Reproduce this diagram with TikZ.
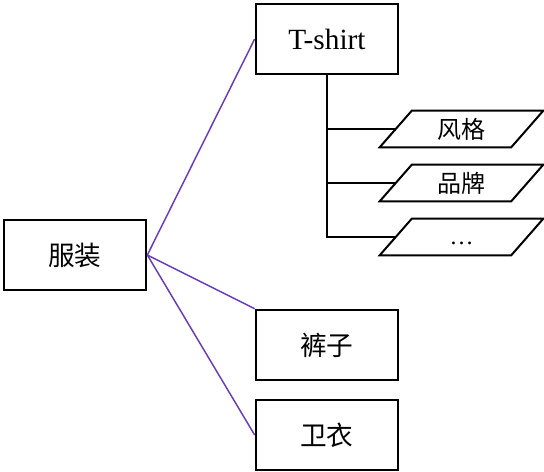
\documentclass[tikz,border=0pt]{standalone}
\usepackage{fontspec}
\setmainfont{Liberation Serif}
\newfontfamily\cjk{Noto Sans CJK SC}
\usetikzlibrary{calc}
\definecolor{linkpurple}{RGB}{106,58,186}
\begin{document}
\begin{tikzpicture}[x=0.75pt,y=-0.75pt,
  boxnode/.style={draw=black,line width=1.5pt,minimum width=107pt,minimum height=53pt,inner sep=0pt,font=\cjk\fontsize{20}{24}\selectfont},
  parnode/.style={minimum width=98.25pt,minimum height=27pt,inner sep=0pt,font=\cjk\fontsize{18}{22}\selectfont},
  link/.style={draw=linkpurple,line width=1.1pt},
  tree/.style={draw=black,line width=1.5pt}]
\useasboundingbox (0,0) rectangle (544,472);
\node[boxnode] (root) at (75,255) {服装};
\node[boxnode,font=\fontsize{22}{26}\selectfont] (tshirt) at (327,39) {T-shirt};
\node[boxnode] (kuzi) at (327,345) {裤子};
\node[boxnode] (weiyi) at (327,435) {卫衣};
\node[parnode] (p1) at (461.5,129) {风格};
\node[parnode] (p2) at (461.5,183) {品牌};
\node[parnode,font=\fontsize{18}{22}\selectfont,text height=14pt,text depth=3pt] (p3) at (461.5,237) {…};
\foreach \n in {p1,p2,p3}{
  \draw[line width=1.5pt,line join=miter]
    ([xshift=12pt]\n.north west) -- ([xshift=12pt]\n.north east)
    -- ([xshift=-12pt]\n.south east) -- ([xshift=-12pt]\n.south west) -- cycle;
}
\draw[link] (root.east) -- (tshirt.west);
\draw[link] (root.east) -- (kuzi.north west);
\draw[link] (root.east) -- (weiyi.west);
\draw[tree] (tshirt.south) -- (tshirt.south |- p3.west) -- (p3.west);
\draw[tree] (tshirt.south |- p1.west) -- (p1.west);
\draw[tree] (tshirt.south |- p2.west) -- (p2.west);
\end{tikzpicture}
\end{document}
